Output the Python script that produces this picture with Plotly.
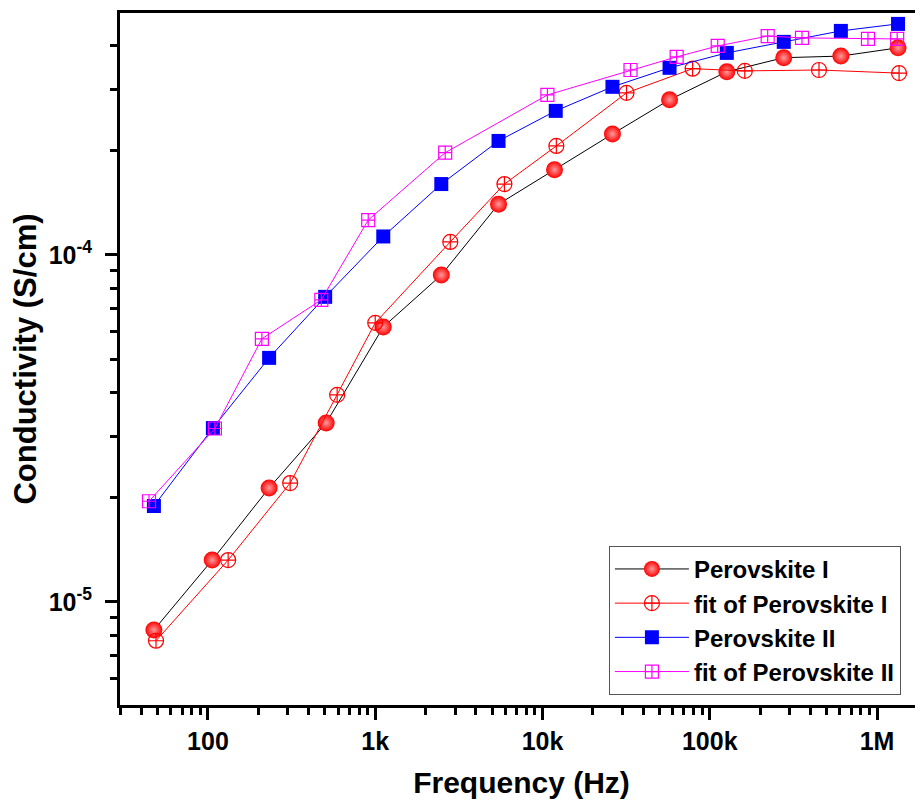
import plotly.graph_objects as go

# ---------------- data ----------------
freq_p1 = [47.5, 106, 232, 509, 1117, 2483, 5460, 11800, 26200, 57500, 126500, 277000, 608000, 1336000]
cond_p1 = [8.3e-6, 1.32e-5, 2.13e-5, 3.28e-5, 6.2e-5, 8.75e-5, 1.40e-4, 1.76e-4, 2.23e-4, 2.80e-4, 3.37e-4, 3.70e-4, 3.74e-4, 3.95e-4]

freq_fit1 = [48.9, 132, 310, 592, 1000, 2810, 5920, 12100, 31800, 79000, 162000, 450000, 1355000]
cond_fit1 = [7.73e-6, 1.32e-5, 2.20e-5, 3.95e-5, 6.37e-5, 1.09e-4, 1.60e-4, 2.06e-4, 2.93e-4, 3.44e-4, 3.39e-4, 3.41e-4, 3.34e-4]

freq_p2 = [47.5, 107, 232, 502, 1117, 2483, 5460, 12000, 26200, 57500, 126500, 277000, 608000, 1336000]
cond_p2 = [1.89e-5, 3.17e-5, 5.05e-5, 7.57e-5, 1.13e-4, 1.60e-4, 2.13e-4, 2.60e-4, 3.05e-4, 3.46e-4, 3.82e-4, 4.11e-4, 4.42e-4, 4.63e-4]

freq_fit2 = [44.4, 110, 210, 476, 908, 2620, 10700, 33600, 63400, 111600, 222000, 356000, 883000, 1320000]
cond_fit2 = [1.95e-5, 3.16e-5, 5.73e-5, 7.42e-5, 1.26e-4, 1.97e-4, 2.89e-4, 3.41e-4, 3.72e-4, 4.0e-4, 4.27e-4, 4.22e-4, 4.19e-4, 4.19e-4]

names = ["Perovskite I", "fit of Perovskite I", "Perovskite II", "fit of Perovskite II"]
x_tickvals = [100, 1000, 10000, 100000, 1000000]
x_ticktext = ["100", "1k", "10k", "100k", "1M"]
y_tickvals = [1e-5, 1e-4]
y_ticktext = ["10<sup>-5</sup>", "10<sup>-4</sup>"]

FONT = "Liberation Sans, Arial, sans-serif"

fig = go.Figure()
fig.add_trace(go.Scatter(
    x=freq_p1, y=cond_p1, name=names[0], mode="lines+markers", legendgroup="a",
    line=dict(color="black", width=1),
    marker=dict(symbol="circle", size=17, color="#ff0000",
                gradient=dict(type="radial", color="#ff9a9a"),
                line=dict(width=0))))
fig.add_trace(go.Scatter(
    x=freq_fit1, y=cond_fit1, name=names[1], mode="lines+markers", legendgroup="b",
    line=dict(color="#ff0000", width=1),
    marker=dict(symbol="circle-cross-open", size=15, color="#ff0000",
                line=dict(width=1.2, color="#ff0000"))))
fig.add_trace(go.Scatter(
    x=freq_p2, y=cond_p2, name=names[2], mode="lines+markers", legendgroup="c",
    line=dict(color="#0000ff", width=1),
    marker=dict(symbol="square", size=14, color="#0000ff", line=dict(width=0))))
fig.add_trace(go.Scatter(
    x=freq_fit2, y=cond_fit2, name=names[3], mode="lines+markers", legendgroup="d",
    line=dict(color="#ff00ff", width=1),
    marker=dict(symbol="square-cross-open", size=13, color="#ff00ff",
                line=dict(width=1.2, color="#ff00ff"))))

fig.update_layout(
    width=923, height=811,
    margin=dict(l=112, r=8, t=5, b=114),
    paper_bgcolor="white", plot_bgcolor="white",
    font=dict(family=FONT, color="black", weight="bold"),
    showlegend=True,
    legend=dict(x=0.9725, y=0.230, xanchor="right", yanchor="top",
                bordercolor="#555555", borderwidth=1, bgcolor="white",
                font=dict(family=FONT, size=24, weight="bold", color="black"),
                itemwidth=74, tracegroupgap=4, traceorder="normal"),
)
fig.update_xaxes(
    type="log", range=[1.474, 6.275], automargin=False,
    showgrid=False, zeroline=False,
    showline=True, linecolor="black", linewidth=3, mirror=True,
    ticks="outside", ticklen=12, tickwidth=3, tickcolor="black",
    tickvals=x_tickvals, ticktext=x_ticktext,
    tickfont=dict(family=FONT, size=25, weight="bold"),
    minor=dict(ticks="outside", ticklen=7, tickwidth=3, tickcolor="black",
               dtick="D1", showgrid=False),
    title=dict(text="Frequency (Hz)", font=dict(family=FONT, size=30, weight="bold"), standoff=18),
)
fig.update_yaxes(
    type="log", range=[-5.297, -3.303], automargin=False,
    showgrid=False, zeroline=False,
    showline=True, linecolor="black", linewidth=3, mirror=False,
    ticks="outside", ticklen=12, tickwidth=3, tickcolor="black",
    tickvals=y_tickvals, ticktext=y_ticktext,
    tickfont=dict(family=FONT, size=25, weight="bold"),
    ticklabelstandoff=8,
    minor=dict(ticks="outside", ticklen=7, tickwidth=3, tickcolor="black",
               dtick="D1", showgrid=False),
    title=dict(text="Conductivity (S/cm)", font=dict(family=FONT, size=31, weight="bold"), standoff=10),
)

fig.write_html("out.html")
